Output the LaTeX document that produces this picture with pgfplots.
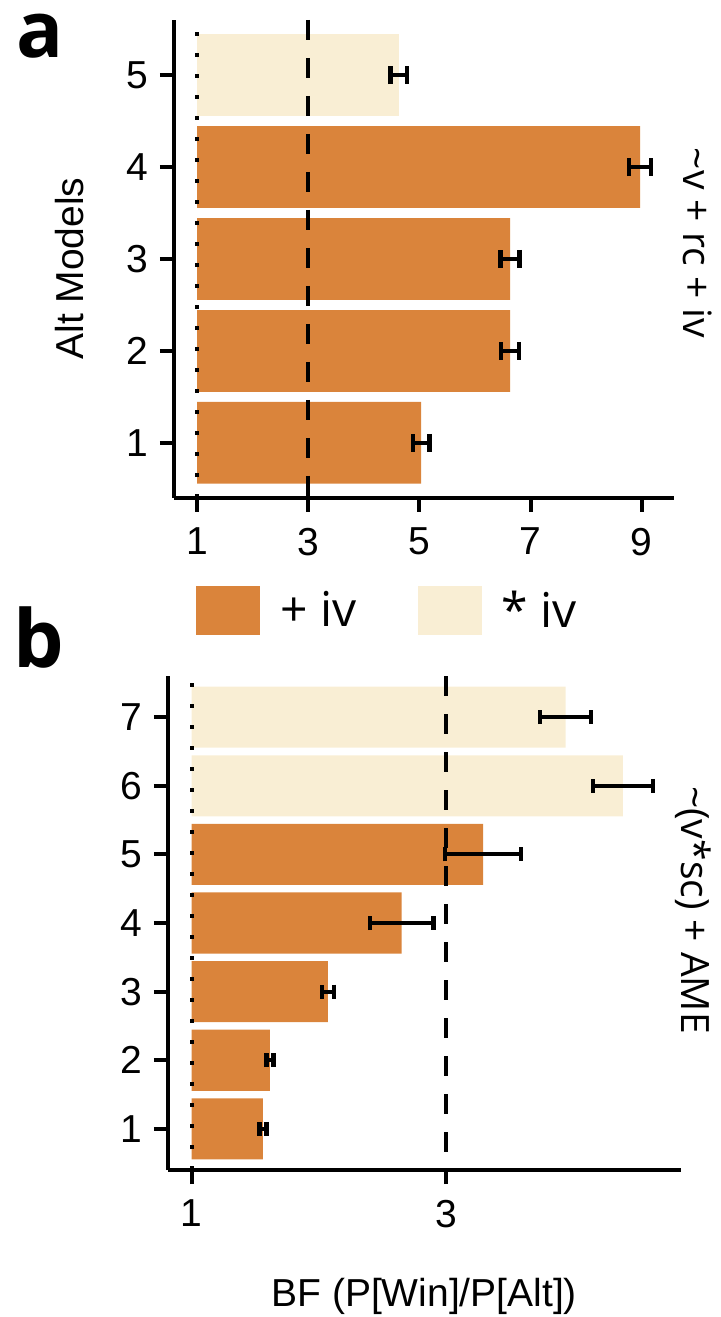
\documentclass[border=0pt]{standalone}
\usepackage{fontspec}
\setmainfont{Liberation Sans}
\newfontfamily\osans{Open Sans}
\usepackage{pgfplots}
\pgfplotsset{compat=1.18}
\usepackage{pgfplotstable}

\definecolor{orangeC}{RGB}{218,132,59}
\definecolor{lightC}{RGB}{249,238,212}

% panel a
\pgfplotstableread{
m bf err
1 5.03 0.15
2 6.63 0.165
3 6.63 0.17
4 8.97 0.20
}\aplus
\pgfplotstableread{
m bf err
5 4.63 0.15
}\astar
% panel b
\pgfplotstableread{
m bf err
1 1.56 0.027
2 1.615 0.027
3 2.07 0.047
4 2.65 0.25
5 3.29 0.30
}\bplus
\pgfplotstableread{
m bf err
6 4.39 0.235
7 3.94 0.20
}\bstar

\pgfplotsset{
  common/.style={
    scale only axis,
    axis x line*=bottom, axis y line*=left,
    axis line style={-, line width=2.2pt, black},
    tick align=outside, major tick length=7pt,
    tick style={line width=2pt, black},
    xtick pos=bottom, ytick pos=left,
    tick label style={font=\fontsize{19.5}{23}\selectfont},
    xticklabel style={yshift=-4.5pt},
    yticklabel style={xshift=-2.5pt},
    label style={font=\fontsize{19.5}{23}\selectfont},
    /pgf/number format/assume math mode=true,
  },
  barA/.style={xbar, bar width=0.89, bar shift=0pt, draw=none},
  ebar/.style={forget plot, draw=none, mark=none,
    error bars/.cd, x dir=both, x explicit, error mark=|,
    error bar style={draw=black, solid, line width=2pt},
    error mark options={draw=black, solid, line width=2.2pt, mark size=#1}},
}

\begin{document}
\begin{tikzpicture}
\useasboundingbox (0pt,0pt) rectangle (360pt,658.5pt);

% ---------- panel a ----------
\begin{axis}[common, at={(87pt,409.5pt)}, anchor=south west,
  width=250pt, height=239pt,
  xmin=-0.414, xmax=8.58, ymin=0.4, ymax=5.6,
  xtick={0,2,4,6,8}, xticklabels={1,3,5,7,9}, ytick={1,2,3,4,5},
  ylabel={Alt Models},
  ylabel style={at={(axis description cs:-0.208,0.48)}, anchor=center},
  legend columns=2,
  legend image code/.code={\fill[#1] (0pt,-12.25pt) rectangle (32pt,12.25pt);
    \path[draw=none, fill=none] (40pt,0pt);},
  legend style={at={(axis description cs:0.044,-0.2354)}, anchor=west,
    draw=none, fill=none, inner sep=0pt,
    font=\osans\fontsize{24}{28}\selectfont,
    /tikz/every even column/.append style={column sep=28.5pt}},
]
\addplot[barA, fill=orangeC] table[x expr=\thisrow{bf}-1, y=m]{\aplus};
\addlegendentry{+ iv}
\addplot[barA, fill=lightC] table[x expr=\thisrow{bf}-1, y=m]{\astar};
\addlegendentry{* iv}
\draw[line width=2pt, dash pattern=on 2pt off 8.5pt] (axis cs:0,0.4) -- (axis cs:0,5.6);
\draw[line width=2pt, dash pattern=on 10pt off 9pt] (axis cs:2,5.6) -- (axis cs:2,0.4);
\addplot[ebar=4.5pt] table[x expr=\thisrow{bf}-1, y=m, x error=err]{\aplus};
\addplot[ebar=4.5pt] table[x expr=\thisrow{bf}-1, y=m, x error=err]{\astar};
\end{axis}

% ---------- panel b ----------
\begin{axis}[common, at={(83.9pt,73.5pt)}, anchor=south west,
  width=256.4pt, height=247pt,
  xmin=-0.188, xmax=3.843, ymin=0.4, ymax=7.6,
  xtick={0,2}, xticklabels={1,3}, ytick={1,2,3,4,5,6,7},
  xlabel={BF (P[Win]/P[Alt])},
  xlabel style={at={(axis description cs:0.5,-0.2773)}, anchor=base},
]
\addplot[barA, fill=orangeC] table[x expr=\thisrow{bf}-1, y=m]{\bplus};
\addplot[barA, fill=lightC] table[x expr=\thisrow{bf}-1, y=m]{\bstar};
\draw[line width=2pt, dash pattern=on 2pt off 8.5pt] (axis cs:0,0.4) -- (axis cs:0,7.6);
\draw[line width=2pt, dash pattern=on 10pt off 9pt] (axis cs:2,7.6) -- (axis cs:2,0.4);
\addplot[ebar=3.5pt] table[x expr=\thisrow{bf}-1, y=m, x error=err]{\bplus};
\addplot[ebar=3.5pt] table[x expr=\thisrow{bf}-1, y=m, x error=err]{\bstar};
\end{axis}

% ---------- panel letters and row titles ----------
\node[anchor=base west, inner sep=0pt, text height=22pt, font=\osans\bfseries\fontsize{39}{43}\selectfont] at (8pt,629.5pt) {a};
\node[anchor=base west, inner sep=0pt, font=\osans\bfseries\fontsize{40}{44}\selectfont] at (6.5pt,324.5pt) {b};
\node[rotate=-90, anchor=base, inner sep=0pt, font=\osans\fontsize{19.5}{24}\selectfont] at (341.5pt,537pt) {\textasciitilde v + rc + iv};
\node[rotate=-90, anchor=base, inner sep=0pt, font=\osans\fontsize{19.5}{24}\selectfont] at (340.5pt,203.5pt) {\textasciitilde(v*sc) + AME};
\end{tikzpicture}
\end{document}
